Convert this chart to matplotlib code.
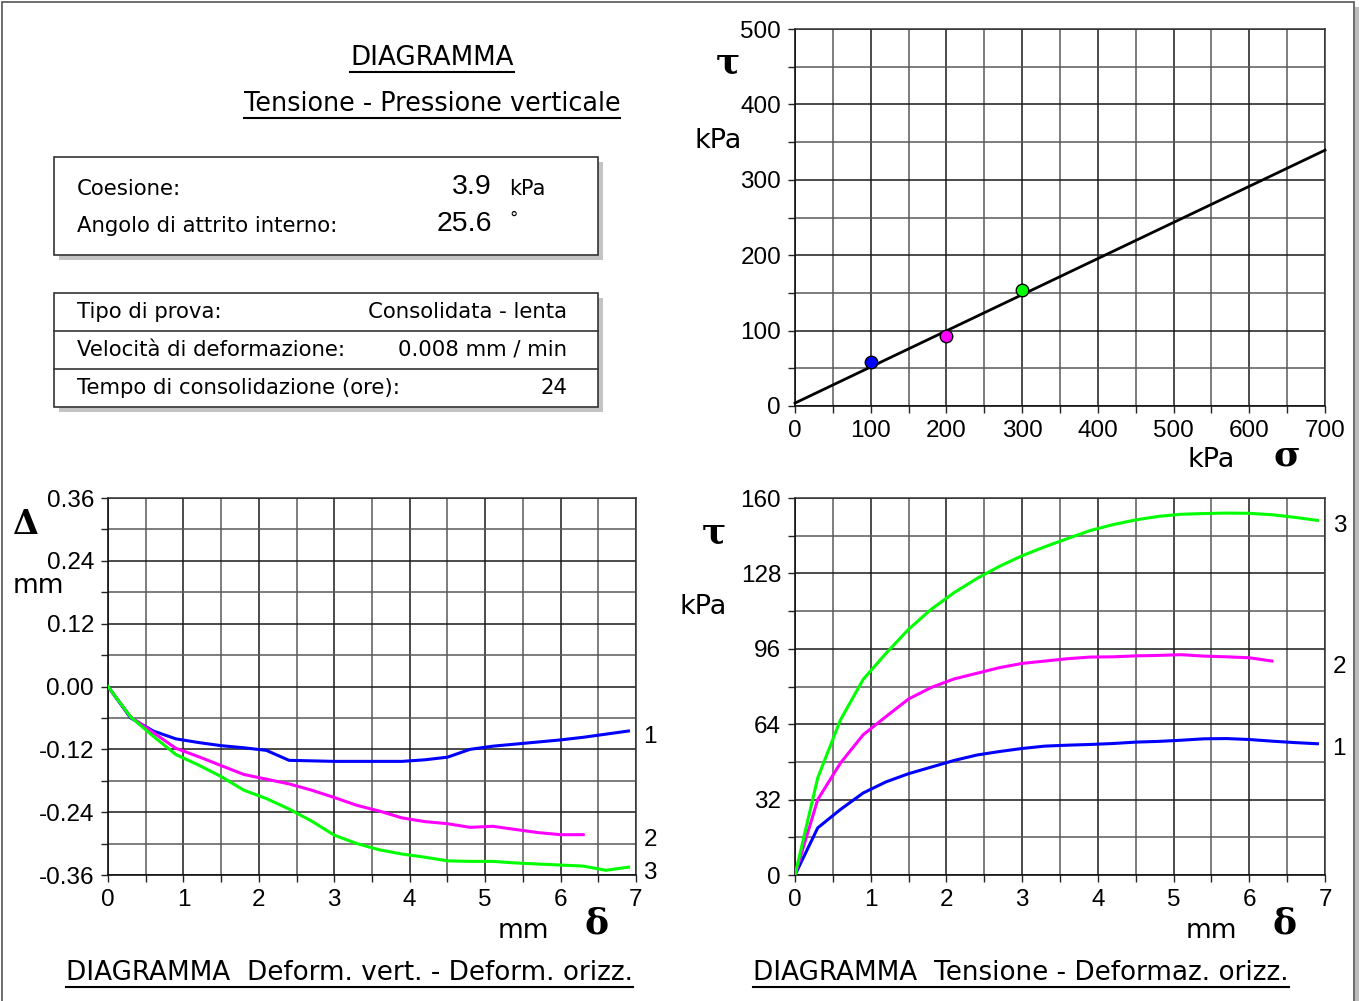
import matplotlib
matplotlib.use("Agg")
import matplotlib.pyplot as plt
from matplotlib.patches import Rectangle
from matplotlib.lines import Line2D
from matplotlib.ticker import MultipleLocator, FormatStrFormatter
import numpy as np

# ---- test results ----
cohesion_kpa = 3.9
friction_deg = 25.6
test_type = "Consolidata - lenta"
strain_rate = "0.008 mm / min"
consolidation_hours = "24"

normal_stress = [100, 200, 300]          # kPa, one per specimen
specimen_colors = ["#0000ff", "#ff00ff", "#00ff00"]
specimen_labels = ["1", "2", "3"]

# horizontal displacement readings (mm)
shift_mm = [0.0, 0.3, 0.6, 0.9, 1.2, 1.5, 1.8, 2.1, 2.4, 2.7, 3.0, 3.3,
            3.6, 3.9, 4.2, 4.5, 4.8, 5.1, 5.4, 5.7, 6.0, 6.3, 6.6, 6.9]

# vertical deformation (mm)
vert_1 = [0, -0.060, -0.085, -0.100, -0.107, -0.113, -0.117, -0.122, -0.141, -0.142,
          -0.143, -0.143, -0.143, -0.143, -0.140, -0.135, -0.120, -0.114, -0.110,
          -0.106, -0.102, -0.097, -0.091, -0.085]
vert_2 = [0, -0.058, -0.088, -0.118, -0.134, -0.151, -0.168, -0.177, -0.186, -0.198,
          -0.212, -0.227, -0.238, -0.251, -0.258, -0.262, -0.269, -0.267, -0.273,
          -0.279, -0.283, -0.283]
vert_3 = [0, -0.058, -0.095, -0.130, -0.150, -0.172, -0.198, -0.214, -0.234, -0.257,
          -0.284, -0.300, -0.312, -0.320, -0.326, -0.333, -0.334, -0.334, -0.337,
          -0.339, -0.341, -0.343, -0.351, -0.345]

# shear stress (kPa)
shear_1 = [0, 20.0, 27.8, 34.8, 39.5, 43.0, 45.8, 48.6, 50.9, 52.4, 53.7, 54.7,
           55.1, 55.4, 55.8, 56.4, 56.7, 57.2, 57.8, 57.9, 57.5, 56.8, 56.2, 55.7]
shear_2 = [0, 32.0, 47.5, 59.5, 67.2, 74.7, 79.6, 83.2, 85.6, 88.0, 89.8, 90.8,
           91.8, 92.5, 92.6, 93.0, 93.2, 93.5, 92.9, 92.6, 92.2, 90.8]
shear_3 = [0, 41.2, 65.8, 83.0, 94.0, 104.3, 112.8, 119.8, 125.8, 131.0, 135.5, 139.3,
           142.8, 146.2, 148.7, 150.7, 152.2, 153.1, 153.4, 153.6, 153.5, 152.9, 151.8, 150.5]

vert_series = [vert_1, vert_2, vert_3]
shear_series = [shear_1, shear_2, shear_3]

W, H = 1359, 1001
fig = plt.figure(figsize=(W / 100, H / 100), dpi=100)
fig.patch.set_facecolor("white")

TXT = ["DejaVu Sans"]
NUM = ["Liberation Sans", "DejaVu Sans"]
GREEK = ["DejaVu Serif"]


def fx(px):
    return px / W


def fy(py):
    return 1 - py / H


def ftext(x, y, s, size, ha="left", va="center", family=TXT, weight="normal"):
    return fig.text(fx(x), fy(y), s, fontsize=size, ha=ha, va=va,
                    family=family, weight=weight)


def axes_px(left, top, right, bottom):
    return fig.add_axes([fx(left), fy(bottom), (right - left) / W, (bottom - top) / H])


def style_grid(ax, xmajor, xminor, ymajor, yminor):
    ax.xaxis.set_major_locator(MultipleLocator(xmajor))
    ax.xaxis.set_minor_locator(MultipleLocator(xminor))
    ax.yaxis.set_major_locator(MultipleLocator(ymajor))
    ax.yaxis.set_minor_locator(MultipleLocator(yminor))
    ax.grid(which="major", color="#1a1a1a", lw=1.1)
    ax.grid(which="minor", color="#5a5a5a", lw=1.1)
    ax.set_axisbelow(True)
    for side in ["top", "right"]:
        ax.spines[side].set_color("#333333")
        ax.spines[side].set_linewidth(1.1)
    for side in ["left", "bottom"]:
        ax.spines[side].set_color("#111111")
        ax.spines[side].set_linewidth(1.2)
    ax.tick_params(which="both", direction="out", length=5, width=1.0,
                   color="#222222", top=False, right=False, pad=5)
    ax.tick_params(which="major", labelsize=17.5)
    for lab in ax.get_xticklabels() + ax.get_yticklabels():
        lab.set_family(NUM)


def end_label(ax, x_end, y_end, text):
    # specimen number just outside the right edge, level with the curve's last reading
    ax.annotate(text, xy=(x_end, y_end), xycoords="data",
                xytext=(0, -4), textcoords="offset points",
                fontsize=17.5, family=NUM, ha="left", va="center",
                annotation_clip=False)


# ---- frame around the sheet ----
fig.add_artist(Rectangle((fx(1355), fy(1010)), 4 / W, (1010 - 7) / H,
                         transform=fig.transFigure, facecolor="#bdbdbd",
                         edgecolor="none"))
fig.add_artist(Rectangle((fx(1.5), fy(1010)), (1353.5 - 1.5) / W, (1010 - 2.5) / H,
                         transform=fig.transFigure, facecolor="none",
                         edgecolor="#555555", lw=1.2))

# ---- header titles ----
underlined = []
underlined.append(ftext(432, 58, "DIAGRAMMA", 18.8, ha="center"))
underlined.append(ftext(432, 104, "Tensione - Pressione verticale", 18.4, ha="center"))


def info_box(left, top, right, bottom):
    fig.add_artist(Rectangle((fx(left + 5), fy(bottom + 5)), (right - left) / W,
                             (bottom - top) / H, transform=fig.transFigure,
                             facecolor="#c4c4c4", edgecolor="none"))
    fig.add_artist(Rectangle((fx(left), fy(bottom)), (right - left) / W,
                             (bottom - top) / H, transform=fig.transFigure,
                             facecolor="white", edgecolor="#333333", lw=1.2))


# strength parameters box
info_box(54, 157, 598, 255)
ftext(77, 189, "Coesione:", 15.3)
ftext(492, 187, f"{cohesion_kpa:.1f}", 20.5, ha="right", family=NUM)
ftext(509, 189, "kPa", 15)
ftext(77, 226, "Angolo di attrito interno:", 15.3)
ftext(492, 224, f"{friction_deg:.1f}", 20.5, ha="right", family=NUM)
ftext(509, 219, "°", 12)

# test conditions box
info_box(54, 293, 598, 407)
for ysep in (331, 369):
    fig.add_artist(Line2D([fx(54), fx(598)], [fy(ysep), fy(ysep)],
                          transform=fig.transFigure, color="#333333", lw=1.2))
rows = [("Tipo di prova:", test_type),
        ("Velocità di deformazione:", strain_rate),
        ("Tempo di consolidazione (ore):", consolidation_hours)]
for i, (k, v) in enumerate(rows):
    yc = 312 + 38 * i
    ftext(77, yc, k, 15.3)
    ftext(567, yc, v, 15.3, ha="right")

# ---- failure envelope ----
ax_env = axes_px(795, 29, 1325, 406)
sig = np.array([0, 700])
ax_env.plot(sig, cohesion_kpa + np.tan(np.radians(friction_deg)) * sig,
            color="black", lw=2.0, zorder=3, clip_on=False)
peaks = [max(s) for s in shear_series]
for s, p, c in zip(normal_stress, peaks, specimen_colors):
    ax_env.plot(s, p, "o", ms=9, mfc=c, mec="black", mew=1.0, zorder=4)
ax_env.set_xlim(0, 700)
ax_env.set_ylim(0, 500)
style_grid(ax_env, 100, 50, 100, 50)
ftext(728, 62, "τ", 26, ha="center", family=GREEK, weight="bold")
ftext(718, 141, "kPa", 19.5, ha="center")
ftext(1211, 460, "kPa", 19.5, ha="center")
ftext(1287, 456, "σ", 26, ha="center", family=GREEK, weight="bold")

# ---- vertical vs horizontal deformation ----
ax_def = axes_px(108, 498, 636, 875)
for y, c, lab in zip(vert_series, specimen_colors, specimen_labels):
    xs = shift_mm[:len(y)]
    ax_def.plot(xs, y, color=c, lw=2.2, zorder=3)
    end_label(ax_def, 7.1, y[-1], lab)
ax_def.set_xlim(0, 7)
ax_def.set_ylim(-0.36, 0.36)
style_grid(ax_def, 1, 0.5, 0.12, 0.06)
ax_def.yaxis.set_major_formatter(FormatStrFormatter("%.2f"))
for lab in ax_def.get_yticklabels():
    lab.set_family(NUM)
ftext(25, 524, "Δ", 24, ha="center", family=GREEK, weight="bold")
ftext(38, 586, "mm", 19, ha="center")
ftext(523, 931, "mm", 19, ha="center")
ftext(597, 924, "δ", 26, ha="center", family=GREEK, weight="bold")
underlined.append(ftext(349, 973, "DIAGRAMMA  Deform. vert. - Deform. orizz.", 18.9,
                        ha="center"))

# ---- shear stress vs horizontal deformation ----
ax_sh = axes_px(795, 498, 1325, 875)
for y, c, lab in zip(shear_series, specimen_colors, specimen_labels):
    xs = shift_mm[:len(y)]
    ax_sh.plot(xs, y, color=c, lw=2.2, zorder=3)
    end_label(ax_sh, 7.1, y[-1], lab)
ax_sh.set_xlim(0, 7)
ax_sh.set_ylim(0, 160)
style_grid(ax_sh, 1, 0.5, 32, 16)
ftext(714, 532, "τ", 26, ha="center", family=GREEK, weight="bold")
ftext(703, 607, "kPa", 19.5, ha="center")
ftext(1211, 931, "mm", 19, ha="center")
ftext(1285, 924, "δ", 26, ha="center", family=GREEK, weight="bold")
underlined.append(ftext(1021, 973, "DIAGRAMMA  Tensione - Deformaz. orizz.", 18.9,
                        ha="center"))

# underline the titles
fig.canvas.draw()
renderer = fig.canvas.get_renderer()
for t in underlined:
    bb = t.get_window_extent(renderer)
    yline = bb.y0 - 1
    fig.add_artist(Line2D([bb.x0 / W, bb.x1 / W], [yline / H, yline / H],
                          transform=fig.transFigure, color="black", lw=1.5))

fig.savefig("out.png", dpi=100, facecolor="white")
